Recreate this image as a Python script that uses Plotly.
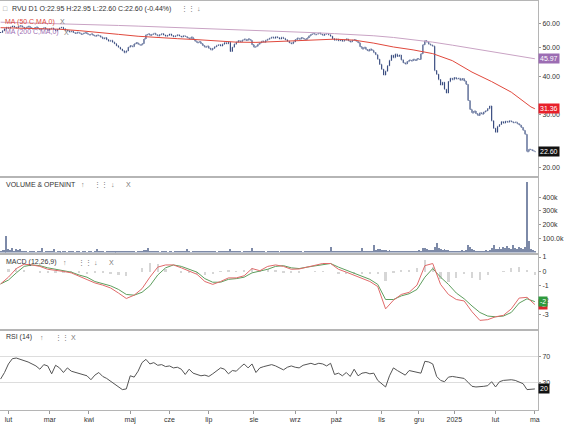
import numpy as np
import pandas as pd
import plotly.graph_objects as go
from plotly.subplots import make_subplots

# GPW trading days, Jan 2024 - Mar 2025
HOLIDAYS = [
    "2024-03-29", "2024-04-01", "2024-05-01", "2024-05-03", "2024-05-30",
    "2024-08-15", "2024-11-01", "2024-11-11", "2024-12-24", "2024-12-25",
    "2024-12-26", "2024-12-31", "2025-01-01", "2025-01-06",
]
dates = pd.bdate_range("2024-01-26", "2025-03-03")
dates = dates[~dates.isin(pd.to_datetime(HOLIDAYS))]

month_labels = ["lut", "mar", "kwi", "maj", "cze", "lip", "sie", "wrz",
                "paź", "lis", "gru", "2025", "lut", "ma"]

close = [
    56.2, 57.0, 57.8, 58.4, 58.0, 58.6, 59.0, 58.5, 58.2, 58.8,
    59.2, 58.6, 58.0, 58.4, 58.9, 58.3, 57.8, 58.2, 58.6, 57.9,
    57.4, 57.9, 58.3, 57.6, 57.2, 57.8, 58.1, 57.5, 57.0, 57.6,
    58.2, 58.5, 57.8, 57.2, 57.0, 56.5, 56.8, 56.2, 55.8, 56.3,
    55.9, 55.4, 55.8, 56.2, 55.6, 55.2, 55.6, 55.0, 54.6, 55.1,
    54.8, 54.2, 53.6, 54.0, 53.2, 52.6, 52.9, 52.2, 51.6, 50.8,
    50.2, 49.5, 48.9, 48.2, 48.8, 50.2, 50.8, 50.4, 51.5, 52.0,
    51.4, 51.0, 51.6, 53.5, 55.2, 55.6, 55.0, 55.4, 55.8, 55.2,
    54.8, 55.3, 55.7, 55.1, 54.6, 55.0, 55.5, 54.9, 54.4, 54.8,
    55.2, 54.7, 54.3, 54.8, 54.5, 54.0, 53.6, 54.2, 53.4, 52.6,
    52.0, 52.4, 51.6, 50.8, 50.2, 50.6, 49.8, 49.2, 49.8, 50.4,
    50.9, 51.2, 50.7, 51.4, 52.0, 51.6, 52.2, 48.6, 50.2, 51.4,
    52.2, 52.8, 52.4, 53.0, 53.4, 52.9, 53.5, 53.0, 51.2, 50.2,
    50.6, 51.4, 52.0, 52.6, 52.2, 53.0, 53.4, 53.8, 54.2, 53.8,
    54.4, 54.0, 53.5, 54.1, 53.7, 53.2, 52.6, 52.0, 51.6, 52.3,
    53.2, 53.8, 53.4, 54.0, 53.6, 53.2, 53.9, 54.8, 55.4, 55.8,
    55.3, 55.6, 55.9, 55.4, 55.0, 55.5, 55.7, 55.2, 54.6, 53.6,
    53.0, 53.4, 52.8, 53.2, 52.6, 53.0, 53.5, 52.8, 52.3, 52.9,
    53.2, 52.6, 52.0, 50.4, 49.6, 50.2, 49.3, 48.8, 49.5, 49.0,
    48.2, 47.4, 45.8, 44.0, 42.4, 40.6, 41.8, 43.6, 45.4, 47.2,
    46.4, 47.6, 46.8, 47.3, 45.6, 44.6, 44.2, 45.0, 45.5, 45.2,
    45.8, 45.4, 46.0, 45.7, 47.8, 51.2, 52.8, 52.2, 51.4, 51.0,
    50.6, 42.0, 40.8, 39.2, 37.6, 38.4, 36.4, 35.4, 38.6, 39.6,
    39.2, 39.8, 39.4, 39.6, 39.0, 39.5, 38.8, 37.8, 33.4, 31.2,
    30.4, 30.8, 30.2, 29.8, 30.4, 30.1, 30.6, 30.9, 31.4, 32.0,
    28.6, 27.0, 26.2, 27.4, 27.8, 28.4, 28.1, 28.5, 28.3, 28.6,
    28.4, 28.2, 28.3, 28.0, 27.7, 27.2, 26.6, 25.8, 22.6, 23.0,
    22.9, 22.70, 22.60,
]

volume_k = [
    15, 22, 18, 120, 30, 20, 35, 12, 25, 18,
    28, 10, 8, 12, 6, 9, 14, 7, 5, 10,
    8, 32, 6, 10, 7, 12, 9, 28, 6, 8,
    10, 5, 7, 12, 6, 9, 8, 11, 5, 7,
    9, 6, 13, 7, 5, 8, 10, 6, 9, 26,
    7, 8, 12, 6, 9, 14, 8, 10, 7, 11,
    13, 9, 16, 12, 8, 10, 7, 9, 11, 6,
    8, 10, 14, 22, 18, 38, 12, 9, 7, 10,
    8, 6, 9, 11, 7, 5, 8, 10, 6, 9,
    12, 8, 7, 10, 14, 30, 9, 6, 8, 11,
    7, 9, 12, 8, 10, 13, 9, 7, 11, 8,
    6, 9, 10, 7, 12, 8, 9, 25, 11, 8,
    7, 10, 8, 6, 9, 11, 8, 10, 34, 12,
    9, 7, 10, 8, 11, 6, 9, 12, 8, 7,
    10, 9, 6, 8, 11, 7, 13, 9, 8, 10,
    7, 9, 12, 8, 6, 10, 9, 11, 7, 8,
    10, 12, 9, 7, 8, 11, 14, 10, 40, 12,
    9, 8, 10, 12, 7, 9, 11, 8, 10, 13,
    9, 12, 10, 14, 35, 16, 11, 9, 12, 15,
    55, 22, 28, 30, 20, 18, 24, 15, 17, 12,
    14, 11, 13, 10, 12, 15, 11, 9, 13, 10,
    12, 14, 16, 18, 15, 32, 38, 28, 20, 24,
    18, 45, 70, 35, 30, 22, 28, 20, 18, 15,
    14, 12, 16, 13, 15, 18, 14, 20, 55, 42,
    25, 18, 15, 14, 16, 12, 15, 18, 14, 22,
    38, 55, 30, 25, 45, 28, 40, 32, 50, 35,
    30, 60, 38, 28, 42, 35, 25, 40, 510, 85,
    30, 22, 15,
]

# moving averages, read every 10th session (last one at the final bar)
ma_idx = list(range(0, 271, 10)) + [272]
ma50 = [58.3, 58.1, 57.9, 57.6, 57.0, 56.3, 55.4, 54.6, 54.0, 53.6,
        53.2, 52.6, 52.2, 52.1, 52.4, 52.8, 53.2, 53.4, 53.0, 51.8,
        50.3, 49.2, 47.8, 45.3, 41.5, 38.6, 35.6, 31.8, 31.36]
ma200 = [60.8, 60.6, 60.4, 60.2, 59.9, 59.6, 59.3, 59.0, 58.7, 58.4,
         58.1, 57.8, 57.5, 57.2, 56.9, 56.5, 56.1, 55.7, 55.3, 54.8,
         54.1, 53.2, 52.2, 51.0, 49.8, 48.6, 47.4, 46.2, 45.97]

# MACD (12,26,9), read every 4th session
macd_idx = list(range(0, 273, 4))
macd = [-0.87, -0.4, 0.2, 0.5, 0.45, 0.35, 0.15, 0.1, 0.0, -0.1,
        -0.35, -0.55, -0.8, -0.95, -1.15, -1.5, -1.88, -1.65, -1.2, -0.4,
        0.3, 0.45, 0.45, 0.25, 0.05, -0.2, -0.7, -0.9, -0.7, -0.45,
        -0.45, -0.3, 0.2, 0.05, 0.35, 0.45, 0.35, 0.15, 0.17, 0.3,
        0.45, 0.55, 0.55, 0.15, -0.05, -0.25, -0.45, -0.7, -1.05, -2.6,
        -2.0, -1.6, -1.45, -0.95, 0.4, 0.55, -0.9, -1.6, -1.95, -2.05,
        -2.8, -3.4, -3.35, -3.15, -3.05, -2.6, -1.85, -1.8, -2.3]
signal = [-0.87, -0.6, -0.1, 0.35, 0.45, 0.4, 0.25, 0.15, 0.05, -0.05,
          -0.25, -0.4, -0.7, -0.85, -1.0, -1.25, -1.6, -1.65, -1.45, -1.0,
          -0.25, 0.25, 0.45, 0.35, 0.15, -0.05, -0.5, -0.75, -0.75, -0.55,
          -0.5, -0.4, -0.1, 0.0, 0.15, 0.35, 0.4, 0.25, 0.2, 0.3,
          0.4, 0.5, 0.55, 0.3, 0.1, -0.1, -0.3, -0.55, -0.9, -1.95,
          -1.95, -1.7, -1.55, -1.25, -0.4, 0.2, -0.4, -0.9, -1.5, -1.9,
          -2.4, -2.85, -3.1, -3.15, -3.1, -2.85, -2.2, -1.9, -2.1]

# RSI (14), read every 2nd session
rsi_idx = list(range(0, 273, 2))
rsi = [35, 45, 58, 66, 67, 65, 64, 61, 58, 55,
       50, 57, 55, 43, 56, 52, 45, 52, 47, 45,
       44, 42, 40, 34, 41, 45, 39, 36, 32, 28,
       24, 19, 20, 40, 38, 47, 60, 65, 58, 60,
       56, 57, 54, 55, 52, 53, 50, 42, 50, 44,
       42, 40, 41, 39, 43, 48, 52, 50, 43, 48,
       47, 53, 58, 52, 58, 45, 52, 54, 56, 57,
       55, 52, 49, 53, 55, 53, 52, 56, 58, 59,
       57, 59, 58, 55, 59, 42, 44, 40, 45, 39,
       50, 40, 44, 45, 43, 44, 33, 28, 23, 40,
       52, 48, 44, 41, 48, 47, 46, 44, 62, 61,
       58, 39, 33, 31, 38, 39, 38, 37, 36, 30,
       24, 23, 23, 24, 25, 31, 23, 31, 33, 34,
       34, 33, 31, 28, 19, 19, 20]

NAVY = "#3a4d80"
RED = "#e0483c"
MAUVE = "#c9a3c4"
PURPLE = "#9c6db3"
MACD_RED = "#e06a6a"
MACD_GREEN = "#5e9e5e"
TXT = "#333333"
ICON = "#777777"

idx = list(range(len(close)))
open_ = pd.Series(close).shift(1).fillna(close[0]).tolist()
high = np.maximum(open_, close)
low = np.minimum(open_, close)
hist = np.array(macd) - np.array(signal)
tick_idx = [i for i in range(1, len(dates)) if dates[i].month != dates[i - 1].month]

fig = make_subplots(rows=4, cols=1, shared_xaxes=True, vertical_spacing=0.005)

fig.add_trace(go.Ohlc(x=idx, open=open_, high=high, low=low, close=close,
                      increasing_line_color=NAVY, decreasing_line_color=NAVY,
                      line_width=1.2, tickwidth=0.3, hoverinfo="skip"),
              row=1, col=1)
fig.add_trace(go.Scatter(x=ma_idx, y=ma200, mode="lines",
                         line=dict(color=MAUVE, width=1)), row=1, col=1)
fig.add_trace(go.Scatter(x=ma_idx, y=ma50, mode="lines",
                         line=dict(color=RED, width=1)), row=1, col=1)

fig.add_trace(go.Bar(x=idx, y=volume_k, marker_color="#7d8aa8",
                     marker_line_width=0, width=0.5), row=2, col=1)

fig.add_trace(go.Bar(x=macd_idx, y=hist, marker_color="#d6d6d6",
                     marker_line_width=0, width=1.2), row=3, col=1)
fig.add_trace(go.Scatter(x=macd_idx, y=signal, mode="lines",
                         line=dict(color=MACD_GREEN, width=1)), row=3, col=1)
fig.add_trace(go.Scatter(x=macd_idx, y=macd, mode="lines",
                         line=dict(color=MACD_RED, width=1)), row=3, col=1)

fig.add_trace(go.Scatter(x=rsi_idx, y=rsi, mode="lines",
                         line=dict(color="#555555", width=1)), row=4, col=1)

fig.update_layout(
    width=564, height=424,
    margin=dict(l=0, r=23, t=0, b=14),
    paper_bgcolor="white", plot_bgcolor="white",
    showlegend=False, bargap=0,
    font=dict(family="Liberation Sans, Arial, sans-serif", size=7, color=TXT),
    yaxis=dict(domain=[0.573, 1.0], type="log",
               range=[np.log10(18.8), np.log10(71.5)],
               tickvals=[20, 30, 40, 50, 60], tickformat=".2f"),
    yaxis2=dict(domain=[0.385, 0.568], range=[0, 540],
                tickvals=[100, 200, 300, 400],
                ticktext=["100.0k", "200k", "300k", "400k"]),
    yaxis3=dict(domain=[0.198, 0.380], range=[-4.0, 1.17],
                tickvals=[1, 0, -1, -2, -3],
                ticktext=["1", "0", "-1", "-2", "-3"]),
    yaxis4=dict(domain=[0.0, 0.193], range=[-12, 108], tickvals=[30, 70],
                showgrid=True, gridcolor="#dddddd"),
)
fig.update_yaxes(side="right", zeroline=False, ticks="outside", ticklen=2,
                 tickcolor="#999999", showline=True, linecolor="#b5b5b5",
                 tickfont=dict(size=7, color=TXT))
fig.update_yaxes(showgrid=False, row=1)
fig.update_yaxes(showgrid=False, row=2)
fig.update_yaxes(showgrid=False, row=3)
fig.update_xaxes(range=[-0.3, 273.6], showgrid=False, zeroline=False,
                 showline=True, linecolor="#b5b5b5", mirror=True,
                 rangeslider_visible=False, tickvals=tick_idx,
                 ticktext=month_labels, tickfont=dict(size=7, color=TXT))
fig.update_xaxes(ticks="outside", ticklen=3, tickcolor="#999999", row=4)


def px(x, y):
    return x / 541, (410 - y) / 410


def label(x, y, text, color=TXT, size=7):
    xp, yp = px(x, y)
    fig.add_annotation(x=xp, y=yp, xref="paper", yref="paper", text=text,
                       showarrow=False, xanchor="left", yanchor="middle",
                       font=dict(size=size, color=color))


label(1, 8, "□", "#888888")
label(10, 8, "RVU D1 O:22.95 H:22.95 L:22.60 C:22.60 (-0.44%)")
label(180, 8, "⋮⋮", ICON)
label(196, 8, "↓", ICON)
label(3, 21, "MA (50 C,MA,0)", RED)
label(58, 21, "X", ICON)
label(3, 31, "MA (200 C,MA,0)", PURPLE)
label(62, 32, "X", ICON)

label(4, 184, "VOLUME & OPENINT")
label(79, 184, "↑", ICON)
label(93, 184, "⋮⋮", ICON)
label(110, 184, "↓", ICON)
label(125, 184, "X", ICON)

label(4, 262, "MACD (12,26,9)")
label(61, 262, "↑", ICON)
label(76, 262, "⋮⋮", ICON)
label(93, 262, "↓", ICON)
label(108, 262, "X", ICON)

label(4, 337, "RSI (14)")
label(38, 337, "↑", ICON)
label(53, 337, "⋮⋮", ICON)
label(69, 337, "X", ICON)


def value_box(yref, y, text, bg):
    fig.add_annotation(x=1, y=y, xref="paper", yref=yref, text=text,
                       showarrow=False, xanchor="left", yanchor="middle",
                       bgcolor=bg, borderpad=1,
                       font=dict(size=7, color="white"))


value_box("y", np.log10(ma200[-1]), f"{ma200[-1]:.2f}", PURPLE)
value_box("y", np.log10(ma50[-1]), f"{ma50[-1]:.2f}", "#e8202a")
value_box("y", np.log10(close[-1]), f"{close[-1]:.2f}", "#111111")
value_box("y3", macd[-1], f"{macd[-1]:.0f}", "#d9262b")
value_box("y3", signal[-1], f"{signal[-1]:.0f}", "#2e9a3e")
value_box("y4", rsi[-1], f"{rsi[-1]:.0f}", "#111111")

# the page body has a default 8px margin; drop it so the chart sits at 0,0
fig.write_html("out.html", config={"displayModeBar": False},
               post_script="document.body.style.margin='0';")
